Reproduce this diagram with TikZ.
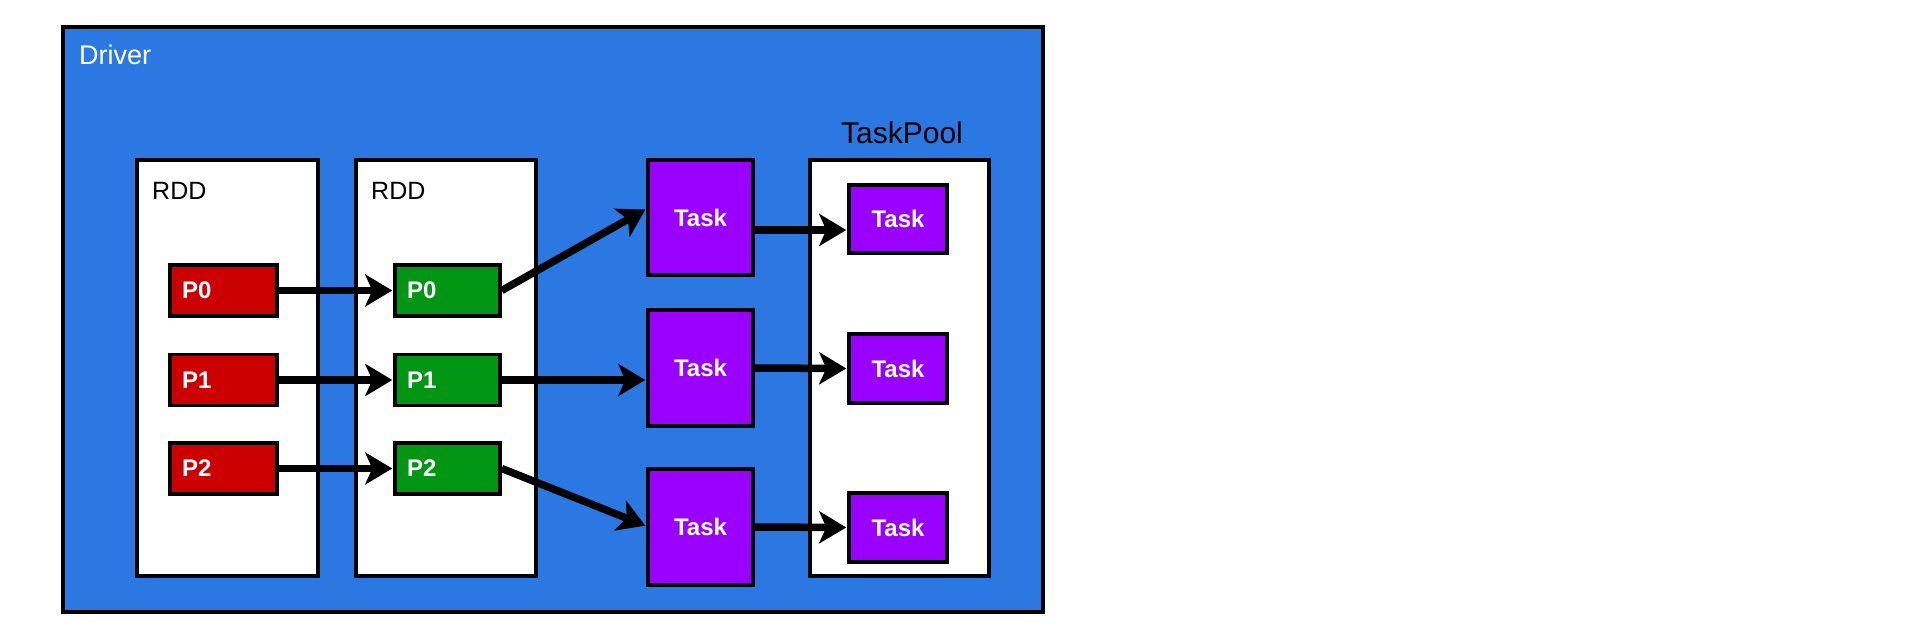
\documentclass[tikz,border=0pt]{standalone}
\usepackage{fontspec}
\setmainfont{Liberation Sans}
\usetikzlibrary{arrows.meta}
\definecolor{drvblue}{RGB}{44,120,226}
\definecolor{pred}{RGB}{204,0,0}
\definecolor{pgreen}{RGB}{0,150,20}
\definecolor{tpurple}{RGB}{153,0,255}
\tikzset{
  frame/.style={draw=black,line width=3.5pt,inner sep=0pt,anchor=center},
  driverbox/.style={frame,fill=drvblue,line width=4pt},
  whitebox/.style={frame,fill=white},
  partbox/.style={frame,line width=3.5pt,text=white,font=\bfseries\fontsize{24}{26}\selectfont,
    align=left,inner xsep=12pt,text width=83pt,minimum height=51pt},
  redpart/.style={partbox,fill=pred},
  greenpart/.style={partbox,fill=pgreen,text width=81pt},
  taskbox/.style={frame,fill=tpurple,text=white,font=\bfseries\fontsize{24}{26}\selectfont},
  lbl/.style={inner sep=0pt,font=\fontsize{25}{27}\selectfont},
  arr/.style={line width=7.5pt,-{Stealth[length=27pt,width=32pt,inset=7pt]},shorten >=1pt}
}
\begin{document}
\begin{tikzpicture}[x=1pt,y=-1pt]
\useasboundingbox[fill=white] (0,0) rectangle (1906,628);
% Driver
\node[driverbox,minimum width=980pt,minimum height=585pt] (drv) at (553,319.5) {};
\node[lbl,text=white,anchor=west,font=\fontsize{27}{29}\selectfont] (drvl) at (79,55) {Driver};
% RDDs
\node[whitebox,minimum width=181pt,minimum height=416pt] (rdd1) at (227.5,368) {};
\node[whitebox,minimum width=180pt,minimum height=416pt] (rdd2) at (446,368) {};
\node[lbl,anchor=west] (rdd1l) at (152,191) {RDD};
\node[lbl,anchor=west] (rdd2l) at (371,191) {RDD};
% partitions
\node[redpart] (r0) at (223.5,290.5) {P0};
\node[redpart] (r1) at (223.5,380) {P1};
\node[redpart] (r2) at (223.5,468.5) {P2};
\node[greenpart] (g0) at (447.5,290.5) {P0};
\node[greenpart] (g1) at (447.5,380) {P1};
\node[greenpart] (g2) at (447.5,468.5) {P2};
% tasks
\node[taskbox,minimum width=105pt,minimum height=115pt] (t1) at (700.5,217.5) {Task};
\node[taskbox,minimum width=105pt,minimum height=116pt] (t2) at (700.5,368) {Task};
\node[taskbox,minimum width=105pt,minimum height=116pt] (t3) at (700.5,527) {Task};
% task pool
\node[whitebox,minimum width=179pt,minimum height=416pt] (pool) at (899.5,368) {};
\node[lbl,font=\fontsize{30}{32}\selectfont] (pooll) at (902,133) {TaskPool};
\node[taskbox,minimum width=98pt,minimum height=68pt] (s1) at (898,219) {Task};
\node[taskbox,minimum width=98pt,minimum height=69pt] (s2) at (898,368.5) {Task};
\node[taskbox,minimum width=98pt,minimum height=69pt] (s3) at (898,527.5) {Task};
% arrows
\draw[arr] (r0.east) -- (g0.west);
\draw[arr] (r1.east) -- (g1.west);
\draw[arr] (r2.east) -- (g2.west);
\draw[arr] (g0.east) -- ([yshift=8.5pt]t1.west);
\draw[arr] (g1.east) -- ([yshift=-12pt]t2.west);
\draw[arr] (g2.east) -- ([yshift=1pt]t3.west);
\draw[arr] ([yshift=-12.5pt]t1.east) -- ([yshift=-11pt]s1.west);
\draw[arr] (t2.east) -- (s2.west);
\draw[arr] (t3.east) -- (s3.west);
\end{tikzpicture}
\end{document}
